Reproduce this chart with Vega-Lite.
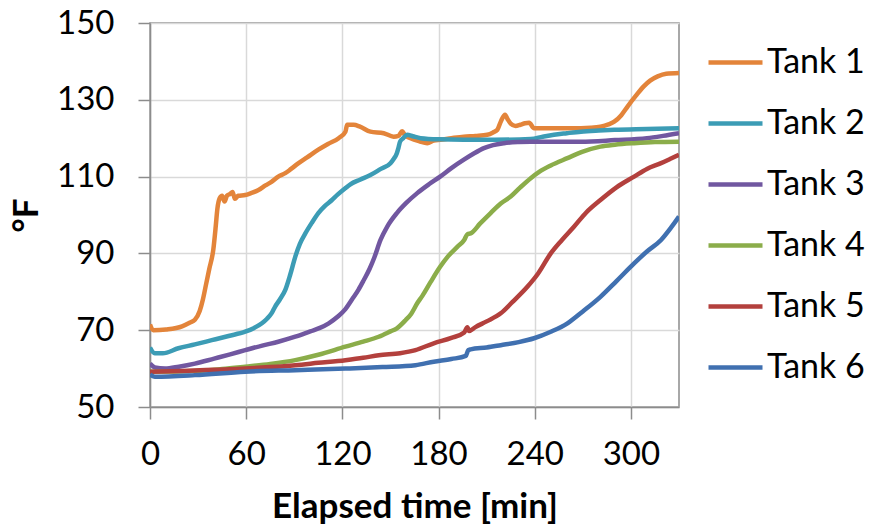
{
  "$schema": "https://vega.github.io/schema/vega-lite/v6.json",
  "width": 529,
  "height": 384,
  "autosize": {"type": "none"},
  "padding": {"left": 150, "top": 23, "right": 203, "bottom": 118},
  "background": "white",
  "config": {
    "view": {"stroke": "#8c8c8c", "strokeWidth": 1.5},
    "font": "Lato"
  },
  "datasets": {
    "temps": [
      {"tank": "Tank 1", "t": 0, "v": 71.5}, {"tank": "Tank 1", "t": 2, "v": 70}, {"tank": "Tank 1", "t": 10, "v": 70.2}, {"tank": "Tank 1", "t": 20, "v": 71}, {"tank": "Tank 1", "t": 25, "v": 72}, {"tank": "Tank 1", "t": 28, "v": 72.7}, {"tank": "Tank 1", "t": 31, "v": 75}, {"tank": "Tank 1", "t": 33, "v": 78}, {"tank": "Tank 1", "t": 35, "v": 82}, {"tank": "Tank 1", "t": 37, "v": 86}, {"tank": "Tank 1", "t": 39.5, "v": 91}, {"tank": "Tank 1", "t": 41, "v": 97}, {"tank": "Tank 1", "t": 42, "v": 101.5}, {"tank": "Tank 1", "t": 43.5, "v": 104.4}, {"tank": "Tank 1", "t": 45, "v": 105}, {"tank": "Tank 1", "t": 46.5, "v": 103.5}, {"tank": "Tank 1", "t": 48, "v": 105}, {"tank": "Tank 1", "t": 50, "v": 105.5}, {"tank": "Tank 1", "t": 51.5, "v": 106}, {"tank": "Tank 1", "t": 53, "v": 104.2}, {"tank": "Tank 1", "t": 55, "v": 105}, {"tank": "Tank 1", "t": 59.4, "v": 105.2}, {"tank": "Tank 1", "t": 63, "v": 105.7}, {"tank": "Tank 1", "t": 67.7, "v": 106.5}, {"tank": "Tank 1", "t": 72, "v": 107.7}, {"tank": "Tank 1", "t": 76, "v": 108.7}, {"tank": "Tank 1", "t": 80, "v": 110}, {"tank": "Tank 1", "t": 84.4, "v": 110.9}, {"tank": "Tank 1", "t": 88, "v": 112}, {"tank": "Tank 1", "t": 92.7, "v": 113.5}, {"tank": "Tank 1", "t": 98, "v": 115}, {"tank": "Tank 1", "t": 105, "v": 117}, {"tank": "Tank 1", "t": 111, "v": 118.5}, {"tank": "Tank 1", "t": 117.7, "v": 120}, {"tank": "Tank 1", "t": 121.9, "v": 121.7}, {"tank": "Tank 1", "t": 123, "v": 123.5}, {"tank": "Tank 1", "t": 127, "v": 123.5}, {"tank": "Tank 1", "t": 131, "v": 123}, {"tank": "Tank 1", "t": 137.5, "v": 121.7}, {"tank": "Tank 1", "t": 145.8, "v": 121.3}, {"tank": "Tank 1", "t": 152, "v": 120.4}, {"tank": "Tank 1", "t": 155, "v": 120.6}, {"tank": "Tank 1", "t": 157.3, "v": 121.8}, {"tank": "Tank 1", "t": 159, "v": 120.8}, {"tank": "Tank 1", "t": 162.5, "v": 120}, {"tank": "Tank 1", "t": 168, "v": 119.2}, {"tank": "Tank 1", "t": 173, "v": 118.7}, {"tank": "Tank 1", "t": 177, "v": 119.4}, {"tank": "Tank 1", "t": 181, "v": 119.6}, {"tank": "Tank 1", "t": 188, "v": 120}, {"tank": "Tank 1", "t": 195.8, "v": 120.4}, {"tank": "Tank 1", "t": 203, "v": 120.6}, {"tank": "Tank 1", "t": 210.4, "v": 120.9}, {"tank": "Tank 1", "t": 214, "v": 121.5}, {"tank": "Tank 1", "t": 216.7, "v": 122.2}, {"tank": "Tank 1", "t": 219, "v": 124.5}, {"tank": "Tank 1", "t": 221.5, "v": 126.1}, {"tank": "Tank 1", "t": 223, "v": 125}, {"tank": "Tank 1", "t": 225, "v": 123.8}, {"tank": "Tank 1", "t": 228, "v": 123.2}, {"tank": "Tank 1", "t": 231, "v": 123.5}, {"tank": "Tank 1", "t": 234, "v": 123.9}, {"tank": "Tank 1", "t": 236.5, "v": 124}, {"tank": "Tank 1", "t": 239.6, "v": 122.6}, {"tank": "Tank 1", "t": 245, "v": 122.6}, {"tank": "Tank 1", "t": 252, "v": 122.6}, {"tank": "Tank 1", "t": 260, "v": 122.6}, {"tank": "Tank 1", "t": 268.8, "v": 122.6}, {"tank": "Tank 1", "t": 275, "v": 122.7}, {"tank": "Tank 1", "t": 281, "v": 123}, {"tank": "Tank 1", "t": 286, "v": 123.6}, {"tank": "Tank 1", "t": 289.6, "v": 124.3}, {"tank": "Tank 1", "t": 294, "v": 126}, {"tank": "Tank 1", "t": 298, "v": 128.3}, {"tank": "Tank 1", "t": 303, "v": 131}, {"tank": "Tank 1", "t": 308, "v": 133.5}, {"tank": "Tank 1", "t": 312, "v": 135}, {"tank": "Tank 1", "t": 316.7, "v": 136.1}, {"tank": "Tank 1", "t": 322, "v": 136.8}, {"tank": "Tank 1", "t": 330, "v": 137},

      {"tank": "Tank 2", "t": 0, "v": 65.5}, {"tank": "Tank 2", "t": 3, "v": 64}, {"tank": "Tank 2", "t": 8, "v": 64}, {"tank": "Tank 2", "t": 17.7, "v": 65.3}, {"tank": "Tank 2", "t": 28, "v": 66.3}, {"tank": "Tank 2", "t": 38.5, "v": 67.4}, {"tank": "Tank 2", "t": 49, "v": 68.5}, {"tank": "Tank 2", "t": 59.4, "v": 69.6}, {"tank": "Tank 2", "t": 65, "v": 70.6}, {"tank": "Tank 2", "t": 69.8, "v": 71.8}, {"tank": "Tank 2", "t": 73, "v": 73}, {"tank": "Tank 2", "t": 76, "v": 74.5}, {"tank": "Tank 2", "t": 78, "v": 76.1}, {"tank": "Tank 2", "t": 81, "v": 78}, {"tank": "Tank 2", "t": 84.4, "v": 80.5}, {"tank": "Tank 2", "t": 87.5, "v": 84.5}, {"tank": "Tank 2", "t": 90.6, "v": 89.1}, {"tank": "Tank 2", "t": 93.5, "v": 92.5}, {"tank": "Tank 2", "t": 96.9, "v": 95.2}, {"tank": "Tank 2", "t": 101, "v": 98}, {"tank": "Tank 2", "t": 105, "v": 100.5}, {"tank": "Tank 2", "t": 109, "v": 102.3}, {"tank": "Tank 2", "t": 113.5, "v": 103.9}, {"tank": "Tank 2", "t": 117, "v": 105.3}, {"tank": "Tank 2", "t": 121.9, "v": 107}, {"tank": "Tank 2", "t": 125, "v": 108}, {"tank": "Tank 2", "t": 131, "v": 109.2}, {"tank": "Tank 2", "t": 137.5, "v": 110.4}, {"tank": "Tank 2", "t": 144, "v": 112}, {"tank": "Tank 2", "t": 150, "v": 113.5}, {"tank": "Tank 2", "t": 152, "v": 114.6}, {"tank": "Tank 2", "t": 154, "v": 116.1}, {"tank": "Tank 2", "t": 155, "v": 117.5}, {"tank": "Tank 2", "t": 156, "v": 119.1}, {"tank": "Tank 2", "t": 158, "v": 120}, {"tank": "Tank 2", "t": 160.4, "v": 120.9}, {"tank": "Tank 2", "t": 164, "v": 120.5}, {"tank": "Tank 2", "t": 168.8, "v": 120}, {"tank": "Tank 2", "t": 180, "v": 119.7}, {"tank": "Tank 2", "t": 195.8, "v": 119.6}, {"tank": "Tank 2", "t": 215, "v": 119.6}, {"tank": "Tank 2", "t": 237.5, "v": 119.8}, {"tank": "Tank 2", "t": 245, "v": 120.4}, {"tank": "Tank 2", "t": 252, "v": 120.9}, {"tank": "Tank 2", "t": 260, "v": 121.3}, {"tank": "Tank 2", "t": 268.8, "v": 121.7}, {"tank": "Tank 2", "t": 280, "v": 122}, {"tank": "Tank 2", "t": 289.6, "v": 122.2}, {"tank": "Tank 2", "t": 310, "v": 122.4}, {"tank": "Tank 2", "t": 330, "v": 122.6},

      {"tank": "Tank 3", "t": 0, "v": 61.3}, {"tank": "Tank 3", "t": 3, "v": 60.3}, {"tank": "Tank 3", "t": 9.4, "v": 60}, {"tank": "Tank 3", "t": 18, "v": 60.5}, {"tank": "Tank 3", "t": 28, "v": 61.3}, {"tank": "Tank 3", "t": 40, "v": 62.6}, {"tank": "Tank 3", "t": 50, "v": 63.7}, {"tank": "Tank 3", "t": 59.4, "v": 64.8}, {"tank": "Tank 3", "t": 70, "v": 66}, {"tank": "Tank 3", "t": 80, "v": 67}, {"tank": "Tank 3", "t": 90.6, "v": 68.3}, {"tank": "Tank 3", "t": 100, "v": 69.7}, {"tank": "Tank 3", "t": 106, "v": 70.6}, {"tank": "Tank 3", "t": 111.5, "v": 71.8}, {"tank": "Tank 3", "t": 117, "v": 73.5}, {"tank": "Tank 3", "t": 121.9, "v": 75.5}, {"tank": "Tank 3", "t": 126, "v": 78}, {"tank": "Tank 3", "t": 130, "v": 80.5}, {"tank": "Tank 3", "t": 133.3, "v": 83}, {"tank": "Tank 3", "t": 137, "v": 86}, {"tank": "Tank 3", "t": 140, "v": 89}, {"tank": "Tank 3", "t": 143.8, "v": 93.5}, {"tank": "Tank 3", "t": 148, "v": 97}, {"tank": "Tank 3", "t": 154, "v": 100.5}, {"tank": "Tank 3", "t": 160, "v": 103.2}, {"tank": "Tank 3", "t": 166.7, "v": 105.7}, {"tank": "Tank 3", "t": 174, "v": 108}, {"tank": "Tank 3", "t": 181, "v": 110}, {"tank": "Tank 3", "t": 188, "v": 112.2}, {"tank": "Tank 3", "t": 195.8, "v": 114.4}, {"tank": "Tank 3", "t": 202, "v": 116}, {"tank": "Tank 3", "t": 208.3, "v": 117.4}, {"tank": "Tank 3", "t": 214, "v": 118.2}, {"tank": "Tank 3", "t": 220.8, "v": 118.7}, {"tank": "Tank 3", "t": 230, "v": 119}, {"tank": "Tank 3", "t": 237.5, "v": 119.1}, {"tank": "Tank 3", "t": 255, "v": 119.1}, {"tank": "Tank 3", "t": 268.8, "v": 119.1}, {"tank": "Tank 3", "t": 290, "v": 119.5}, {"tank": "Tank 3", "t": 310, "v": 120}, {"tank": "Tank 3", "t": 320, "v": 120.6}, {"tank": "Tank 3", "t": 330, "v": 121.3},

      {"tank": "Tank 4", "t": 0, "v": 59.2}, {"tank": "Tank 4", "t": 28, "v": 59.4}, {"tank": "Tank 4", "t": 45, "v": 59.9}, {"tank": "Tank 4", "t": 59.4, "v": 60.5}, {"tank": "Tank 4", "t": 75, "v": 61.2}, {"tank": "Tank 4", "t": 90.6, "v": 62.2}, {"tank": "Tank 4", "t": 105, "v": 63.6}, {"tank": "Tank 4", "t": 121.9, "v": 65.7}, {"tank": "Tank 4", "t": 133, "v": 67}, {"tank": "Tank 4", "t": 142.7, "v": 68.3}, {"tank": "Tank 4", "t": 150, "v": 69.7}, {"tank": "Tank 4", "t": 154, "v": 70.5}, {"tank": "Tank 4", "t": 159.4, "v": 72.6}, {"tank": "Tank 4", "t": 163, "v": 74.3}, {"tank": "Tank 4", "t": 166.7, "v": 77}, {"tank": "Tank 4", "t": 170, "v": 79}, {"tank": "Tank 4", "t": 175, "v": 82.5}, {"tank": "Tank 4", "t": 181, "v": 86.5}, {"tank": "Tank 4", "t": 186, "v": 89.3}, {"tank": "Tank 4", "t": 191.7, "v": 91.7}, {"tank": "Tank 4", "t": 196, "v": 93.5}, {"tank": "Tank 4", "t": 198, "v": 95}, {"tank": "Tank 4", "t": 200, "v": 95.2}, {"tank": "Tank 4", "t": 206, "v": 97.8}, {"tank": "Tank 4", "t": 212.5, "v": 100.5}, {"tank": "Tank 4", "t": 218.8, "v": 103}, {"tank": "Tank 4", "t": 225, "v": 104.8}, {"tank": "Tank 4", "t": 231, "v": 107.2}, {"tank": "Tank 4", "t": 237.5, "v": 109.6}, {"tank": "Tank 4", "t": 243, "v": 111.3}, {"tank": "Tank 4", "t": 250, "v": 112.9}, {"tank": "Tank 4", "t": 260.4, "v": 114.8}, {"tank": "Tank 4", "t": 270, "v": 116.5}, {"tank": "Tank 4", "t": 281, "v": 117.8}, {"tank": "Tank 4", "t": 290, "v": 118.3}, {"tank": "Tank 4", "t": 302, "v": 118.7}, {"tank": "Tank 4", "t": 315, "v": 119}, {"tank": "Tank 4", "t": 330, "v": 119.1},

      {"tank": "Tank 5", "t": 0, "v": 59.2}, {"tank": "Tank 5", "t": 20, "v": 59.4}, {"tank": "Tank 5", "t": 40, "v": 59.7}, {"tank": "Tank 5", "t": 59.4, "v": 60}, {"tank": "Tank 5", "t": 75, "v": 60.4}, {"tank": "Tank 5", "t": 90.6, "v": 60.9}, {"tank": "Tank 5", "t": 105, "v": 61.5}, {"tank": "Tank 5", "t": 121.9, "v": 62.2}, {"tank": "Tank 5", "t": 133, "v": 62.8}, {"tank": "Tank 5", "t": 142.7, "v": 63.5}, {"tank": "Tank 5", "t": 156, "v": 64}, {"tank": "Tank 5", "t": 165.6, "v": 64.8}, {"tank": "Tank 5", "t": 177, "v": 66.6}, {"tank": "Tank 5", "t": 188, "v": 68}, {"tank": "Tank 5", "t": 196, "v": 69.4}, {"tank": "Tank 5", "t": 198, "v": 70.8}, {"tank": "Tank 5", "t": 199, "v": 69.8}, {"tank": "Tank 5", "t": 203, "v": 70.8}, {"tank": "Tank 5", "t": 210, "v": 72.3}, {"tank": "Tank 5", "t": 218.8, "v": 74.4}, {"tank": "Tank 5", "t": 226, "v": 77.3}, {"tank": "Tank 5", "t": 235.4, "v": 81.3}, {"tank": "Tank 5", "t": 242, "v": 84.7}, {"tank": "Tank 5", "t": 250, "v": 90}, {"tank": "Tank 5", "t": 257, "v": 93.5}, {"tank": "Tank 5", "t": 264.6, "v": 97}, {"tank": "Tank 5", "t": 272, "v": 100.6}, {"tank": "Tank 5", "t": 281, "v": 103.9}, {"tank": "Tank 5", "t": 291, "v": 107.2}, {"tank": "Tank 5", "t": 302, "v": 110}, {"tank": "Tank 5", "t": 310, "v": 112}, {"tank": "Tank 5", "t": 318.8, "v": 113.5}, {"tank": "Tank 5", "t": 325, "v": 114.7}, {"tank": "Tank 5", "t": 330, "v": 115.7},

      {"tank": "Tank 6", "t": 0, "v": 58.4}, {"tank": "Tank 6", "t": 3, "v": 57.9}, {"tank": "Tank 6", "t": 28, "v": 58.3}, {"tank": "Tank 6", "t": 59.4, "v": 59.2}, {"tank": "Tank 6", "t": 90.6, "v": 59.6}, {"tank": "Tank 6", "t": 121.9, "v": 60}, {"tank": "Tank 6", "t": 145, "v": 60.4}, {"tank": "Tank 6", "t": 165.6, "v": 60.9}, {"tank": "Tank 6", "t": 177, "v": 61.8}, {"tank": "Tank 6", "t": 188, "v": 62.5}, {"tank": "Tank 6", "t": 197, "v": 63.3}, {"tank": "Tank 6", "t": 198.5, "v": 64.8}, {"tank": "Tank 6", "t": 200, "v": 65}, {"tank": "Tank 6", "t": 210, "v": 65.5}, {"tank": "Tank 6", "t": 218.8, "v": 66.1}, {"tank": "Tank 6", "t": 230, "v": 66.9}, {"tank": "Tank 6", "t": 239.6, "v": 67.9}, {"tank": "Tank 6", "t": 250, "v": 69.6}, {"tank": "Tank 6", "t": 260.4, "v": 71.8}, {"tank": "Tank 6", "t": 270, "v": 74.9}, {"tank": "Tank 6", "t": 281, "v": 78.7}, {"tank": "Tank 6", "t": 291, "v": 82.8}, {"tank": "Tank 6", "t": 302, "v": 87.4}, {"tank": "Tank 6", "t": 310, "v": 90.5}, {"tank": "Tank 6", "t": 318.8, "v": 93.5}, {"tank": "Tank 6", "t": 325, "v": 96.7}, {"tank": "Tank 6", "t": 330, "v": 99.6}
    ]
  },
  "data": {"name": "temps"},
  "mark": {"type": "line", "strokeWidth": 4.5, "strokeJoin": "round", "interpolate": "monotone", "clip": true},
  "encoding": {
    "x": {
      "field": "t",
      "type": "quantitative",
      "scale": {"domain": [0, 330], "nice": false, "zero": false},
      "axis": {
        "values": [0, 60, 120, 180, 240, 300],
        "title": "Elapsed time [min]",
        "titleFont": "Lato",
        "titleFontSize": 35,
        "titleFontWeight": "bold",
        "titleColor": "black",
        "titlePadding": 18,
        "labelFont": "Lato",
        "labelFontSize": 33,
        "labelColor": "black",
        "labelPadding": 19,
        "labelFlush": false,
        "domainColor": "#8c8c8c",
        "domainWidth": 1.5,
        "tickColor": "#8c8c8c",
        "tickWidth": 1.5,
        "tickSize": 12,
        "gridColor": "#d9d9d9",
        "gridWidth": 1.5
      }
    },
    "y": {
      "field": "v",
      "type": "quantitative",
      "scale": {"domain": [50, 150], "nice": false, "zero": false},
      "axis": {
        "values": [50, 70, 90, 110, 130, 150],
        "title": "°F",
        "titleFont": "Lato",
        "titleFontSize": 35,
        "titleFontWeight": "bold",
        "titleColor": "black",
        "titlePadding": 12,
        "labelFont": "Lato",
        "labelFontSize": 33,
        "labelColor": "black",
        "labelPadding": 24,
        "labelFlush": false,
        "domainColor": "#8c8c8c",
        "domainWidth": 1.5,
        "tickColor": "#8c8c8c",
        "tickWidth": 1.5,
        "tickSize": 12,
        "gridColor": "#d9d9d9",
        "gridWidth": 1.5
      }
    },
    "color": {
      "field": "tank",
      "type": "nominal",
      "scale": {
        "domain": ["Tank 1", "Tank 2", "Tank 3", "Tank 4", "Tank 5", "Tank 6"],
        "range": ["#E3843A", "#3C9CB5", "#7157A0", "#8BAD4A", "#B3403D", "#4070B0"]
      },
      "legend": {
        "orient": "none",
        "legendX": 556,
        "legendY": 10,
        "title": null,
        "padding": 0,
        "symbolType": "stroke",
        "symbolSize": 2916,
        "symbolStrokeWidth": 4.5,
        "labelFont": "Lato",
        "labelFontSize": 34,
        "labelColor": "black",
        "labelOffset": 2,
        "rowPadding": 14
      }
    }
  }
}
